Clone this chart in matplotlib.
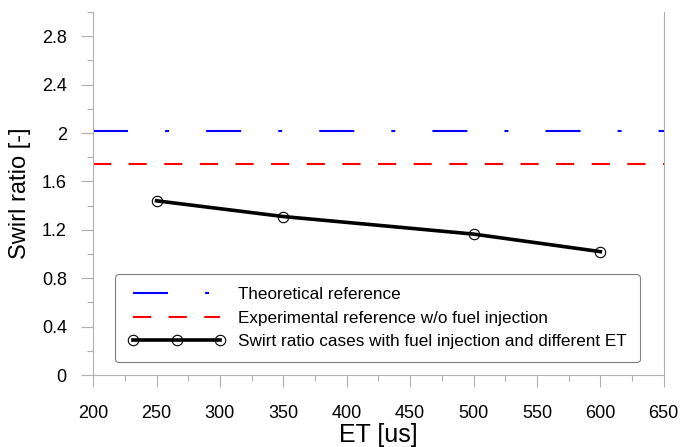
import matplotlib
matplotlib.use('Agg')
import matplotlib.pyplot as plt
from matplotlib.ticker import MultipleLocator

plt.rcParams['font.family'] = ['Liberation Sans', 'DejaVu Sans']

et = [250, 350, 500, 600]
swirl = [1.44, 1.31, 1.165, 1.02]
theoretical = 2.015
experimental = 1.745

labels = ['Theoretical reference',
          'Experimental reference w/o fuel injection',
          'Swirt ratio cases with fuel injection and different ET']

fig = plt.figure(figsize=(6.8, 4.47), dpi=100)
ax = fig.add_axes([0.137, 0.161, 0.839, 0.812])

ax.axhline(theoretical, color='#0000ff', lw=1.5, dashes=(16.8, 17.8, 1.9, 17.8),
           label=labels[0])
ax.axhline(experimental, color='#ff0000', lw=1.5, dashes=(8.7, 8.4),
           label=labels[1])
ax.plot(et, swirl, color='black', lw=2.6, marker='o', ms=7.5, mfc='none',
        mec='black', mew=0.8, label=labels[2])

ax.set_xlim(200, 650)
ax.set_ylim(0, 3.0)
ax.xaxis.set_major_locator(MultipleLocator(50))
ax.xaxis.set_minor_locator(MultipleLocator(25))
ax.yaxis.set_minor_locator(MultipleLocator(0.2))
ax.set_yticks([0, 0.4, 0.8, 1.2, 1.6, 2.0, 2.4, 2.8])
ax.set_yticklabels(['0', '0.4', '0.8', '1.2', '1.6', '2', '2.4', '2.8'])

grey = '#b0b0b0'
for s in ['left', 'bottom', 'right']:
    ax.spines[s].set_color(grey)
ax.spines['top'].set_visible(False)
ax.tick_params(which='major', direction='out', length=8.5, width=0.8,
               color=grey, labelsize=13)
ax.tick_params(which='minor', direction='out', length=4.3, width=0.8, color=grey)
ax.tick_params(axis='y', which='major', pad=10.5)
ax.tick_params(axis='x', which='major', pad=13)

ax.set_xlabel('ET [us]', fontsize=18, labelpad=1)
ax.set_ylabel('Swirl ratio [-]', fontsize=17, labelpad=8)

leg = ax.legend(loc='lower left', bbox_to_anchor=(0.0385, 0.036), fontsize=12.3,
                numpoints=3, handlelength=5.7, handletextpad=0.76,
                fancybox=True, framealpha=1, edgecolor='#808080',
                borderpad=0.75, labelspacing=0.5, borderaxespad=0)
leg.get_frame().set_linewidth(0.8)

fig.savefig('out.png', dpi=100)
